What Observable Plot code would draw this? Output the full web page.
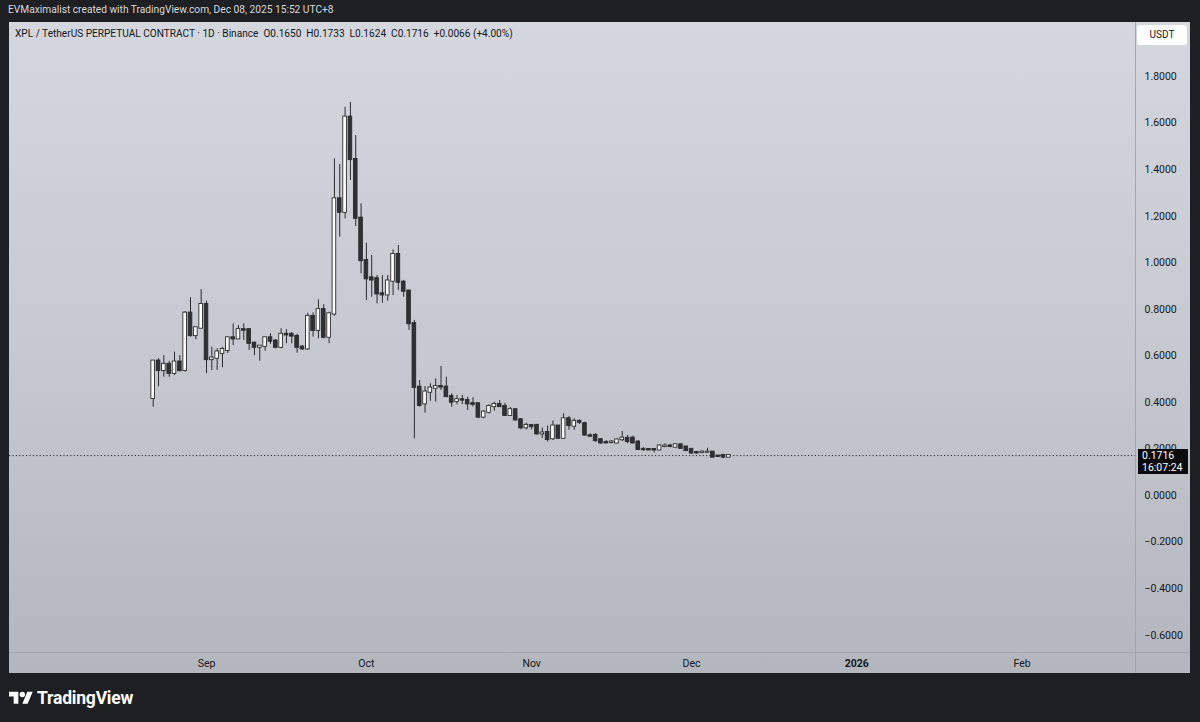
<!DOCTYPE html>
<html>
<head>
<meta charset="utf-8">
<script src="https://cdn.jsdelivr.net/npm/d3@7"></script>
<script src="https://cdn.jsdelivr.net/npm/@observablehq/plot@0.6"></script>
<style>
  html, body { margin: 0; padding: 0; }
  body { width: 1200px; height: 722px; background: #1e1f22; position: relative; overflow: hidden;
         font-family: Roboto, "Noto Sans", sans-serif; }
  #hdr { position: absolute; left: 8px; top: 4px; color: #d8d9dc; font-size: 10.2px; }
  #panel { position: absolute; left: 9px; top: 22px; width: 1181px; height: 651px;
           background: linear-gradient(to bottom, #d4d7dd 0%, #c6c9cf 50%, #b3b6bc 100%); overflow: hidden; }
  #legend { position: absolute; left: 6px; top: 6px; font-size: 10.1px; color: #131722; white-space: pre; }
  #usdt { position: absolute; left: 1128px; top: 3px; width: 50px; height: 20px; background: #fff; border-radius: 3px;
          font-size: 10px; color: #131722; text-align: center; line-height: 20px; }
  .hline { position: absolute; left: 0; top: 630px; width: 1181px; height: 1px; background: #a3a6ac; }
  .vline { position: absolute; left: 1126px; top: 0; width: 1px; height: 651px; background: #a3a6ac; }
  #pricebox { position: absolute; left: 1129px; width: 50px; height: 25px; background: #0b0b0d; color: #fff;
              font-size: 10.5px; line-height: 11.5px; padding: 1px 0 0 4px; box-sizing: border-box; }
  #chart { position: absolute; left: 0; top: 0; }
  #logo { position: absolute; left: 9px; top: 688px; display: flex; align-items: center; color: #fff; }
  #logo span { font-size: 17.5px; font-weight: 700; margin-left: 4px; letter-spacing: -0.2px; }
</style>
</head>
<body>
<div id="hdr">EVMaximalist created with TradingView.com, Dec 08, 2025 15:52 UTC+8</div>
<div id="panel">
  <div id="chart"></div>
  <div class="hline"></div>
  <div class="vline"></div>
  <div id="legend">XPL / TetherUS PERPETUAL CONTRACT · 1D · Binance  O0.1650  H0.1733  L0.1624  C0.1716  +0.0066 (+4.00%)</div>
  <div id="usdt">USDT</div>
  <div id="pricebox">0.1716<br>16:07:24</div>
</div>
<div id="logo">
  <svg width="24" height="19" viewBox="0 0 36 28"><path fill="#fff" d="M14 22H7V11H0V4h14v18zM28 22h-8l7.5-18h8L28 22z"/><circle fill="#fff" cx="20" cy="8" r="4"/></svg>
  <span>TradingView</span>
</div>
<script>
// ---- data (daily candles, XPL/USDT perpetual, starting 2025-08-22) ----
const startDate = "2025-08-22";
const opens  = [0.417,0.577,0.537,0.563,0.525,0.573,0.537,0.783,0.687,0.719,
                0.820,0.584,0.590,0.611,0.623,0.677,0.673,0.712,0.712,0.654,
                0.637,0.641,0.677,0.663,0.637,0.692,0.692,0.683,0.637,0.630,
                0.769,0.709,0.798,0.680,0.780,1.274,1.217,1.625,1.443,1.191,
                1.009,0.935,0.931,0.866,0.862,0.921,1.035,0.916,0.878,0.738,
                0.465,0.394,0.444,0.461,0.468,0.465,0.425,0.404,0.411,0.408,
                0.394,0.394,0.337,0.358,0.382,0.391,0.382,0.344,0.368,0.325,
                0.291,0.300,0.301,0.265,0.270,0.244,0.298,0.246,0.329,0.298,
                0.318,0.308,0.256,0.258,0.239,0.227,0.228,0.226,0.240,0.245,
                0.246,0.229,0.198,0.197,0.197,0.196,0.211,0.212,0.208,0.217,
                0.208,0.198,0.184,0.185,0.186,0.186,0.169,0.172,0.1650];
const highs  = [0.580,0.588,0.601,0.576,0.616,0.601,0.790,0.849,0.720,0.884,
                0.835,0.637,0.630,0.637,0.680,0.737,0.730,0.737,0.716,0.659,
                0.644,0.680,0.695,0.670,0.716,0.712,0.700,0.692,0.644,0.783,
                0.785,0.840,0.820,0.787,1.446,1.422,1.668,1.689,1.546,1.253,
                1.084,1.031,0.945,0.945,0.945,1.055,1.074,0.924,0.881,0.752,
                0.494,0.468,0.480,0.501,0.554,0.508,0.437,0.430,0.430,0.422,
                0.420,0.394,0.365,0.390,0.400,0.408,0.396,0.378,0.372,0.330,
                0.310,0.305,0.305,0.290,0.298,0.320,0.300,0.351,0.340,0.330,
                0.325,0.315,0.265,0.265,0.245,0.236,0.236,0.243,0.275,0.258,
                0.255,0.236,0.205,0.202,0.198,0.218,0.222,0.220,0.222,0.222,
                0.212,0.200,0.190,0.192,0.203,0.188,0.170,0.175,0.1733];
const lows   = [0.379,0.467,0.508,0.508,0.515,0.530,0.530,0.680,0.669,0.719,
                0.523,0.537,0.537,0.549,0.610,0.644,0.670,0.666,0.623,0.601,
                0.577,0.620,0.649,0.630,0.630,0.652,0.652,0.611,0.623,0.623,
                0.680,0.673,0.673,0.652,0.770,1.110,1.188,1.353,1.156,0.952,
                0.838,0.852,0.823,0.826,0.835,0.859,0.881,0.852,0.709,0.243,
                0.379,0.354,0.405,0.401,0.451,0.422,0.379,0.390,0.390,0.365,
                0.380,0.330,0.330,0.350,0.362,0.380,0.340,0.340,0.320,0.282,
                0.282,0.282,0.260,0.245,0.230,0.236,0.244,0.244,0.280,0.280,
                0.305,0.255,0.250,0.229,0.220,0.224,0.222,0.222,0.232,0.222,
                0.222,0.193,0.190,0.193,0.183,0.193,0.205,0.205,0.205,0.200,
                0.190,0.176,0.178,0.180,0.184,0.162,0.166,0.160,0.1624];
const closes = [0.577,0.537,0.563,0.525,0.573,0.537,0.783,0.687,0.720,0.820,
                0.584,0.590,0.616,0.627,0.677,0.673,0.712,0.710,0.654,0.637,
                0.641,0.677,0.663,0.637,0.692,0.690,0.685,0.637,0.630,0.769,
                0.709,0.798,0.680,0.780,1.274,1.217,1.625,1.443,1.191,1.009,
                0.931,0.926,0.866,0.862,0.921,1.035,0.916,0.878,0.738,0.465,
                0.387,0.444,0.461,0.468,0.466,0.425,0.401,0.411,0.410,0.394,
                0.392,0.337,0.358,0.382,0.391,0.382,0.344,0.368,0.325,0.291,
                0.301,0.296,0.265,0.268,0.241,0.298,0.246,0.329,0.301,0.318,
                0.315,0.260,0.255,0.236,0.226,0.226,0.229,0.238,0.246,0.232,
                0.226,0.198,0.197,0.196,0.196,0.212,0.212,0.211,0.217,0.203,
                0.193,0.183,0.183,0.186,0.186,0.165,0.168,0.165,0.1716];
const lastClose = 0.1716;

const yTicks = [-0.6,-0.4,-0.2,0,0.2,0.4,0.6,0.8,1.0,1.2,1.4,1.6,1.8];
const monthTickDates  = ["2025-09-01","2025-10-01","2025-11-01","2025-12-01","2026-02-01"];
const monthTickLabels = ["Sep","Oct","Nov","Dec","Feb"];
const yearTickDates   = ["2026-01-01"];
const yearTickLabels  = ["2026"];

// ---- build table ----
const start = new Date(startDate + "T00:00:00Z");
const data = opens.map((o, i) => ({
  date: d3.utcDay.offset(start, i),
  open: o, high: highs[i], low: lows[i], close: closes[i]
}));
const half = 0.34 * 864e5;
const up = data.filter(d => d.close >= d.open);
const down = data.filter(d => d.close < d.open);
const mLab = new Map(monthTickDates.map((s, i) => [+new Date(s + "T00:00:00Z"), monthTickLabels[i]]));
const yLab = new Map(yearTickDates.map((s, i) => [+new Date(s + "T00:00:00Z"), yearTickLabels[i]]));
const fmtY = v => (v < 0 ? "\u2212" : "") + Math.abs(v).toFixed(4);

const bodyOpts = (fill) => ({
  x1: d => new Date(+d.date - half), x2: d => new Date(+d.date + half),
  y1: d => Math.min(d.open, d.close), y2: d => Math.max(d.open, d.close),
  fill, stroke: "#2a2b2e", strokeWidth: 0.9, insetTop: -0.6, insetBottom: -0.6
});

const chart = Plot.plot({
  width: 1181, height: 651,
  marginLeft: 0, marginRight: 55, marginTop: 0, marginBottom: 21,
  style: { background: "transparent", fontFamily: "Roboto, 'Noto Sans', sans-serif", fontSize: "10.5px", color: "#131722" },
  x: { type: "utc", domain: [new Date(Date.UTC(2025, 6, 26, 1)), new Date(Date.UTC(2026, 1, 22, 7))] },
  y: { domain: [-0.6744, 2.0318] },
  marks: [
    Plot.ruleY([lastClose], { stroke: "#2a2b2e", strokeDasharray: "1.2,2.2", strokeWidth: 1 }),
    Plot.ruleX(data, { x: "date", y1: "low", y2: "high", stroke: "#2a2b2e", strokeWidth: 1 }),
    Plot.rect(down, bodyOpts("#2f3033")),
    Plot.rect(up, bodyOpts("#ffffff")),
    Plot.axisY(yTicks, { anchor: "right", tickSize: 0, tickPadding: 9, tickFormat: fmtY, label: null, fill: "#131722" }),
    Plot.axisX(monthTickDates.map(s => new Date(s + "T00:00:00Z")), { tickSize: 0, tickPadding: 7, tickFormat: d => mLab.get(+d), label: null, fill: "#131722" }),
    Plot.axisX(yearTickDates.map(s => new Date(s + "T00:00:00Z")), { tickSize: 0, tickPadding: 7, tickFormat: d => yLab.get(+d), label: null, fill: "#131722", fontWeight: "bold" })
  ]
});
document.getElementById("chart").appendChild(chart);
const yPix = chart.scale("y").apply(lastClose);
document.getElementById("pricebox").style.top = (yPix - 6) + "px";
</script>
</body>
</html>
